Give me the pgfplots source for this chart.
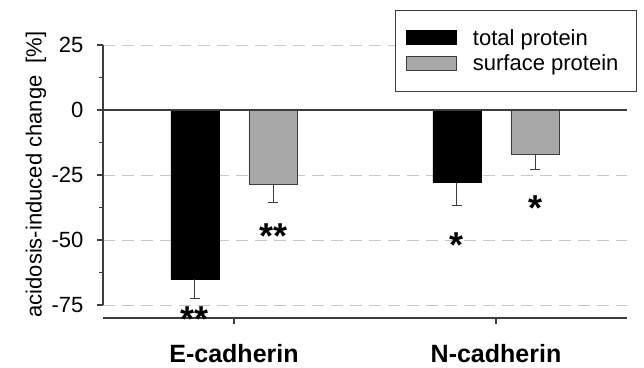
\documentclass[border=0pt]{standalone}
\usepackage{fontspec}
\setmainfont{Liberation Sans}
\usepackage{pgfplots}
\usepackage{pgfplotstable}
\pgfplotsset{compat=1.18}
\definecolor{axgray}{RGB}{60,60,60}
\definecolor{bargray}{RGB}{168,168,168}
\definecolor{gridgray}{RGB}{200,200,200}

\pgfplotstableread{
x     y      e
0.851 -65.0  7.4
1.851 -27.9  9.0
}\totalprot
\pgfplotstableread{
x     y      e
1.149 -28.6  7.0
2.149 -16.9  5.9
}\surfprot

\begin{document}
\begin{tikzpicture}
\useasboundingbox (-103pt,-49pt) rectangle (541pt,318pt);
\begin{axis}[
 scale only axis, width=524pt, height=273pt,
 xmin=0.5, xmax=2.5, ymin=-80, ymax=25,
 clip=false,
 axis line style={draw=none},
 xtick={1,2}, xticklabels={E-cadherin,N-cadherin},
 ytick={25,0,-25,-50,-75},
 minor ytick={12.5,-12.5,-37.5,-62.5},
 tick pos=left, tick align=outside,
 major tick length=6pt, minor tick length=4pt,
 every tick/.style={axgray, line width=1.4pt},
 ymajorgrids, grid style={gridgray, dash pattern=on 12pt off 7pt, line width=1pt},
 /pgf/number format/assume math mode=true,
 yticklabel style={font=\fontsize{22}{26}\selectfont, xshift=-10pt},
 xticklabel style={font=\bfseries\fontsize{25}{30}\selectfont, anchor=base, yshift=-38pt},
 ylabel={acidosis-induced change \ [\%]},
 ylabel style={font=\fontsize{22}{26}\selectfont, at={(axis description cs:-0.128,0.526)}, anchor=center},
 legend style={at={(1.019,1.128)}, anchor=north east, draw=axgray, line width=1pt,
   font=\fontsize{22}{26}\selectfont, cells={anchor=base west},
   inner xsep=10pt, inner ysep=17pt, row sep=4pt},
]
\addplot[ybar, bar width=0.184, bar shift=0, fill=black, draw=black,
  legend image code/.code={\draw[fill=black,draw=black] (0pt,1pt) rectangle (50pt,15pt);
     \path (64pt,0pt);},
  error bars/.cd, y dir=minus, y explicit,
  error bar style={axgray, line width=1pt},
  error mark options={rotate=90, mark size=5pt, line width=1pt, axgray}]
  table[x=x, y=y, y error=e] {\totalprot};
\addplot[ybar, bar width=0.184, bar shift=0, fill=bargray, draw=axgray, line width=0.8pt,
  legend image code/.code={\draw[fill=bargray,draw=axgray,line width=0.8pt] (0pt,1pt) rectangle (50pt,15pt);
     \path (64pt,0pt);},
  error bars/.cd, y dir=minus, y explicit,
  error bar style={axgray, line width=1pt},
  error mark options={rotate=90, mark size=5pt, line width=1pt, axgray}]
  table[x=x, y=y, y error=e] {\surfprot};
\legend{total protein, surface protein\kern6pt}
\draw[axgray, line width=1.4pt] (axis cs:0.5,0) -- (axis cs:2.5,0);
\draw[axgray, line width=1.4pt] (axis cs:0.5,25) -- (axis cs:0.5,-75);
\draw[axgray, line width=1.4pt] (axis cs:0.5,-80) -- (axis cs:2.5,-80);
\node[font=\bfseries\fontsize{36}{40}\selectfont, anchor=base, yshift=-20.5pt] at (axis cs:0.851,-77.2) {**};
\node[font=\bfseries\fontsize{36}{40}\selectfont, anchor=base, yshift=-20.5pt] at (axis cs:1.149,-45.4) {**};
\node[font=\bfseries\fontsize{36}{40}\selectfont, anchor=base, yshift=-20.5pt] at (axis cs:1.851,-48.7) {*};
\node[font=\bfseries\fontsize{36}{40}\selectfont, anchor=base, yshift=-20.5pt] at (axis cs:2.149,-34.6) {*};
\end{axis}
\end{tikzpicture}
\end{document}
